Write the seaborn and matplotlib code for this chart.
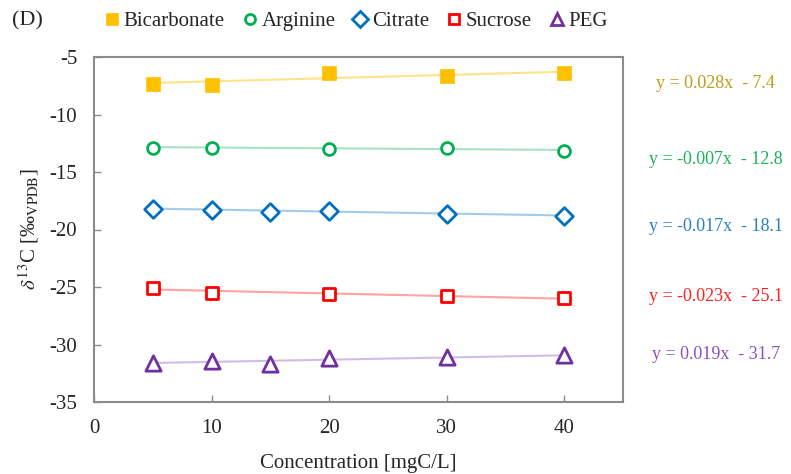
import numpy as np
import pandas as pd
import matplotlib
matplotlib.use("Agg")
import matplotlib.pyplot as plt
from matplotlib.lines import Line2D
import seaborn as sns

# Measured delta-13C values per carbon source
conc_bicarbonate = [5, 10, 20, 30, 40]
d13c_bicarbonate = [-7.35, -7.43, -6.42, -6.65, -6.42]

conc_arginine = [5, 10, 20, 30, 40]
d13c_arginine = [-12.94, -12.88, -13.0, -12.91, -13.15]

conc_citrate = [5, 10, 15, 20, 30, 40]
d13c_citrate = [-18.19, -18.3, -18.45, -18.39, -18.62, -18.83]

conc_sucrose = [5, 10, 20, 30, 40]
d13c_sucrose = [-25.09, -25.5, -25.61, -25.78, -25.93]

conc_peg = [5, 10, 15, 20, 30, 40]
d13c_peg = [-31.65, -31.4, -31.7, -31.15, -31.1, -30.95]

# Linear fits (slope, intercept) as reported
slopes = [0.028, -0.007, -0.017, -0.023, 0.019]
intercepts = [-7.4, -12.8, -18.1, -25.1, -31.7]

names = ["Bicarbonate", "Arginine", "Citrate", "Sucrose", "PEG"]
xs = [conc_bicarbonate, conc_arginine, conc_citrate, conc_sucrose, conc_peg]
ys = [d13c_bicarbonate, d13c_arginine, d13c_citrate, d13c_sucrose, d13c_peg]

x_ticks = [0, 10, 20, 30, 40]
y_ticks = [-35, -30, -25, -20, -15, -10, -5]

sns.set_theme(style="white")
plt.rcParams["font.family"] = ["Liberation Serif", "DejaVu Serif"]
plt.rcParams["mathtext.fontset"] = "stix"

marker_colors = ["#FFC000", "#00B050", "#0070C0", "#FF0000", "#7030A0"]
line_colors = ["#FFE38A", "#A8E2C2", "#A3CBEA", "#FFA3A3", "#D2BCE6"]
text_colors = ["#C09A1A", "#1DB05C", "#2A7DC6", "#FF2020", "#8A50BE"]
markers = ["s", "o", "D", "s", "^"]
msizes = [10.5, 8.5, 9.0, 9.0, 11.0]
filled = [True, False, False, False, False]
eq_y = [-7.3, -13.87, -19.7, -25.8, -30.9]

fig = plt.figure(figsize=(7.91, 4.74), dpi=100)
ax = fig.add_axes([94 / 791, 1 - 402 / 474, (623 - 94) / 791, (402 - 57) / 474])

for i, name in enumerate(names):
    x = np.asarray(xs[i], dtype=float)
    fit_x = np.array([x.min(), x.max()])
    fit_y = slopes[i] * fit_x + intercepts[i]
    sns.lineplot(x=fit_x, y=fit_y, ax=ax, color=line_colors[i], linewidth=1.5,
                 legend=False, zorder=2)
    df = pd.DataFrame({"conc": xs[i], "d13c": ys[i]})
    if filled[i]:
        sns.scatterplot(data=df, x="conc", y="d13c", ax=ax, marker=markers[i],
                        s=msizes[i] ** 2, color=marker_colors[i],
                        edgecolor=marker_colors[i], linewidth=0.5,
                        legend=False, zorder=3)
    else:
        sns.scatterplot(data=df, x="conc", y="d13c", ax=ax, marker=markers[i],
                        s=msizes[i] ** 2, facecolor="white",
                        edgecolor=marker_colors[i], linewidth=2.0,
                        legend=False, zorder=3)
    sign = "-" if intercepts[i] < 0 else "+"
    eq = f"y = {slopes[i]:.3f}x  {sign} {abs(intercepts[i]):.1f}"
    ax.text(52.9, eq_y[i], eq, color=text_colors[i], fontsize=13,
            ha="center", va="center", clip_on=False)

ax.set_xlim(0, 45)
ax.set_ylim(-35, -5)
ax.set_xticks(x_ticks)
ax.set_yticks(y_ticks)
ax.set_xticklabels([str(t) for t in x_ticks])
ax.set_yticklabels([str(t) for t in y_ticks])
ax.tick_params(axis="both", direction="in", length=5, width=1, color="#8c8c8c",
               labelsize=15, pad=12, bottom=True, left=True)
for s in ax.spines.values():
    s.set_color("#8c8c8c")
    s.set_linewidth(1.5)

ax.set_xlabel("Concentration [mgC/L]", fontsize=15, labelpad=12)
ax.set_ylabel(r"$\delta^{13}$C [‰$_{\mathrm{VPDB}}$]", fontsize=15, labelpad=6)

handles = []
for i, name in enumerate(names):
    handles.append(Line2D([], [], linestyle="none", marker=markers[i],
                          markersize=msizes[i] * 0.85,
                          markerfacecolor=marker_colors[i] if filled[i] else "white",
                          markeredgecolor=marker_colors[i],
                          markeredgewidth=0.5 if filled[i] else 2.0,
                          label=name))
fig.legend(handles=handles, loc="center left", bbox_to_anchor=(105 / 791, 1 - 21 / 474),
           ncol=5, frameon=False, fontsize=15, handlelength=0.7, handletextpad=0.2,
           columnspacing=0.85, borderaxespad=0, borderpad=0)

fig.text(12 / 791, 1 - 21 / 474, "(D)", fontsize=16, ha="left", va="center")

fig.savefig("out.png", dpi=100)
